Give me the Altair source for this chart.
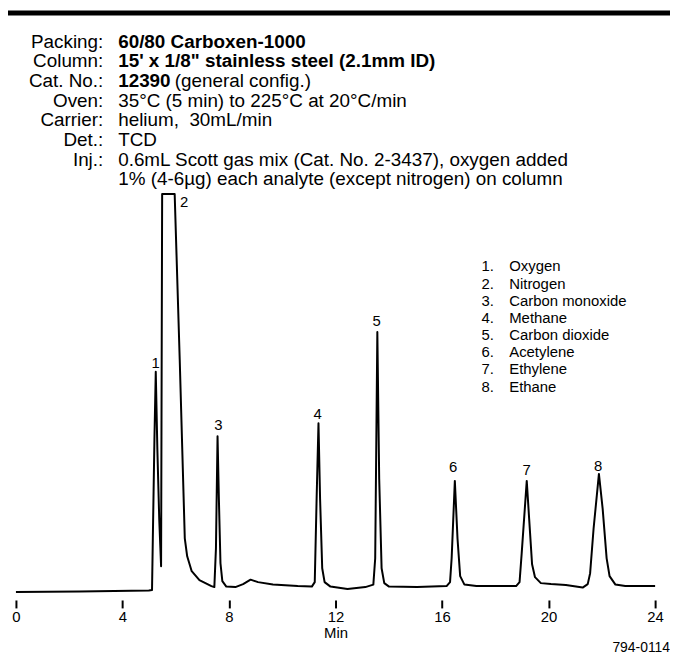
import altair as alt
import pandas as pd

FONT = "Liberation Sans"

# ---- chromatogram trace: retention time (min) and detector response (arbitrary units)
trace_time = [0.00, 2.39, 4.99, 5.11, 5.14, 5.20, 5.25, 5.31, 5.38, 5.45,
              5.49, 5.96, 6.15, 6.34, 6.43, 6.60, 6.89, 7.34, 7.45,
              7.51, 7.57, 7.62, 7.68, 7.75, 7.90, 8.24, 8.53, 8.81, 9.09,
              9.65, 10.58, 11.11, 11.22, 11.29, 11.36, 11.42, 11.50, 11.59, 11.81,
              12.45, 13.12, 13.42, 13.49, 13.57, 13.64, 13.73, 13.83, 14.01, 15.06,
              16.17, 16.30, 16.36, 16.48, 16.58, 16.68, 16.84, 17.29, 18.78, 18.91,
              18.99, 19.18, 19.27, 19.38, 19.49, 19.71, 20.09, 20.65, 21.28, 21.47,
              21.56, 21.69, 21.89, 22.03, 22.18, 22.29, 22.51, 22.88, 24.00]
trace_resp = [8, 8.5, 9.5, 10, 62, 162, 230, 152, 82, 34,
              409, 409, 242, 62, 44, 29, 20, 14, 13,
              52, 165, 102, 37, 19, 13.5, 13, 16, 20.5, 18,
              15.5, 14, 13.5, 18, 102, 178, 102, 32, 18, 13.5,
              11, 13, 15.5, 42, 270, 122, 32, 17, 13.5, 13,
              14, 18, 42, 120, 62, 24, 15.5, 14, 14, 18,
              47, 120, 82, 36, 23, 17, 16, 15, 12.5, 16,
              27, 72, 127, 92, 42, 24, 15.5, 14, 14]

# ---- peak numbers and where their labels sit
peak_ids = ["1", "2", "3", "4", "5", "6", "7", "8"]
peak_label_time = [5.25, 6.32, 7.60, 11.33, 13.54, 16.42, 19.18, 21.86]
peak_label_resp = [239, 401, 176, 187, 281, 134, 131, 135]

compounds = ["Oxygen", "Nitrogen", "Carbon monoxide", "Methane",
             "Carbon dioxide", "Acetylene", "Ethylene", "Ethane"]

header_keys = ["Packing:", "Column:", "Cat. No.:", "Oven:", "Carrier:", "Det.:", "Inj.:", ""]
header_bold_text = ["60/80 Carboxen-1000", "15' x 1/8\" stainless steel (2.1mm ID)", "12390",
                    "", "", "", "", ""]
header_plain_text = ["", "", "(general config.)", "35°C (5 min) to 225°C at 20°C/min",
                     "helium,\u00a0 30mL/min", "TCD",
                     "0.6mL Scott gas mix (Cat. No. 2-3437), oxygen added",
                     "1% (4-6µg) each analyte (except nitrogen) on column"]

x_ticks = [0, 4, 8, 12, 16, 20, 24]
figure_code = "794-0114"

# ---- layout constants (pixels)
W, H = 644, 594
HEAD_TOP, HEAD_STEP = 31.5, 19.8
LEG_TOP, LEG_STEP = 258, 17.3

x_scale = alt.Scale(domain=[0, 24], nice=False, zero=False)
y_scale = alt.Scale(domain=[0, H], nice=False, zero=True)

trace_df = pd.DataFrame({"t": trace_time, "r": trace_resp, "i": range(len(trace_time))})
peaks_df = pd.DataFrame({"id": peak_ids, "t": peak_label_time, "r": peak_label_resp})

hdr_df = pd.DataFrame({"key": header_keys, "bold": header_bold_text,
                       "plain": header_plain_text, "row": range(len(header_keys))})
hdr_df["py"] = HEAD_TOP + hdr_df["row"] * HEAD_STEP
hdr_df["plain_x"] = [103 if b == "" else 160 for b in header_bold_text]

leg_df = pd.DataFrame({"num": [f"{i + 1}." for i in range(len(compounds))],
                       "name": compounds, "row": range(len(compounds))})
leg_df["py"] = LEG_TOP + leg_df["row"] * LEG_STEP

x_axis = alt.Axis(values=x_ticks, format="d", domain=False, grid=False, ticks=True,
                  tickSize=8, tickWidth=2, tickColor="black",
                  labelFont=FONT, labelFontSize=15, labelColor="black", labelPadding=2,
                  labelFlush=False,
                  title="Min", titleFont=FONT, titleFontSize=15, titleFontWeight="normal",
                  titleColor="black", titlePadding=1)

line = alt.Chart(trace_df).mark_line(color="black", strokeWidth=2, strokeJoin="round",
                                     clip=False).encode(
    x=alt.X("t:Q", scale=x_scale, axis=x_axis),
    y=alt.Y("r:Q", scale=y_scale, axis=None),
    order="i:Q",
)

peak_text = alt.Chart(peaks_df).mark_text(font=FONT, fontSize=15, color="black",
                                          align="center", baseline="middle").encode(
    x=alt.X("t:Q", scale=x_scale),
    y=alt.Y("r:Q", scale=y_scale),
    text="id:N",
)

hdr_keys = alt.Chart(hdr_df).mark_text(font=FONT, fontSize=19, color="black",
                                       align="right", baseline="middle").encode(
    x=alt.value(88), y=alt.Y("py:Q", scale=None), text="key:N")

hdr_bold = alt.Chart(hdr_df).mark_text(font=FONT, fontSize=19, fontWeight="bold",
                                       color="black", align="left",
                                       baseline="middle").encode(
    x=alt.value(103), y=alt.Y("py:Q", scale=None), text="bold:N")

hdr_plain = alt.Chart(hdr_df).mark_text(font=FONT, fontSize=19, color="black",
                                        align="left", baseline="middle").encode(
    x=alt.X("plain_x:Q", scale=None), y=alt.Y("py:Q", scale=None), text="plain:N")

leg_num = alt.Chart(leg_df).mark_text(font=FONT, fontSize=15, color="black",
                                      align="left", baseline="middle").encode(
    x=alt.value(469), y=alt.Y("py:Q", scale=None), text="num:N")

leg_name = alt.Chart(leg_df).mark_text(font=FONT, fontSize=15, color="black",
                                       align="left", baseline="middle").encode(
    x=alt.value(497), y=alt.Y("py:Q", scale=None), text="name:N")

code = alt.Chart(pd.DataFrame({"c": [figure_code]})).mark_text(
    font=FONT, fontSize=14, color="black", align="right", baseline="middle").encode(
    x=alt.value(659), y=alt.value(642), text="c:N")

bar = alt.Chart(pd.DataFrame({"a": [0]})).mark_rect(color="black").encode(
    x=alt.value(-8), x2=alt.value(662), y=alt.value(0), y2=alt.value(5))

chart = alt.layer(line, peak_text, hdr_keys, hdr_bold, hdr_plain, leg_num, leg_name,
                  code, bar).properties(
    width=W, height=H, autosize="none",
    padding={"left": 8, "top": 0, "right": 15, "bottom": 57},
    background="white",
).configure_view(stroke=None)

chart.save("out.html", embed_options={"renderer": "svg", "actions": False})
